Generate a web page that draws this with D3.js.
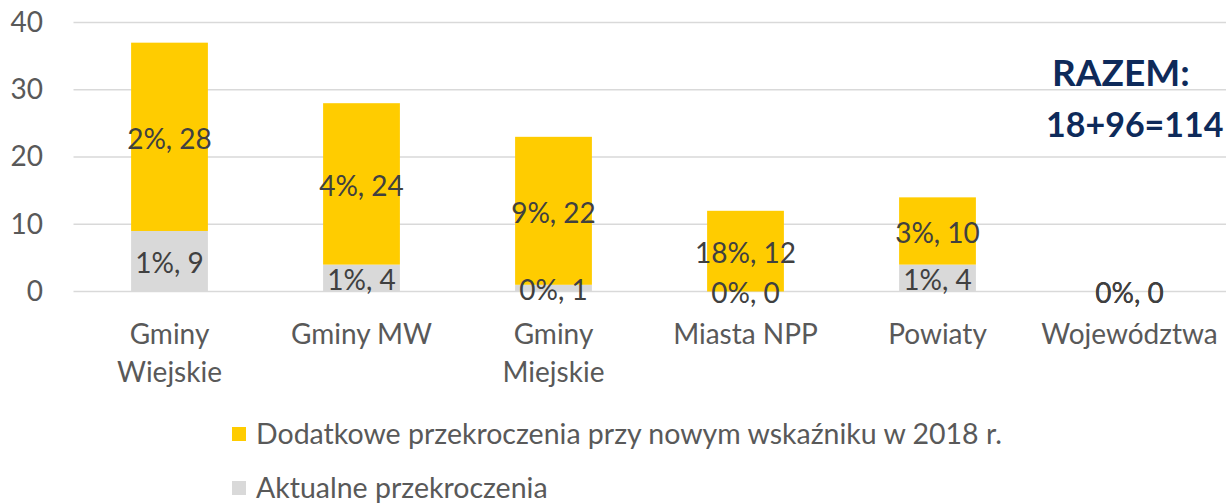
<!DOCTYPE html>
<html>
<head>
<meta charset="utf-8">
<script src="https://cdn.jsdelivr.net/npm/d3@7"></script>
<style>
  body { margin: 0; background: #fff; }
  svg { display: block; font-family: Lato, "Open Sans", sans-serif; }
</style>
</head>
<body>
<div id="chart-area"></div>
<script>
// Przekroczenia wskaźnika wg typu JST
var categories = ["Gminy Wiejskie", "Gminy MW", "Gminy Miejskie", "Miasta NPP", "Powiaty", "Województwa"];
var aktualne = [9, 4, 1, 0, 4, 0];
var aktualnePct = [1, 1, 0, 0, 1, 0];
var dodatkowe = [28, 24, 22, 12, 10, 0];
var dodatkowePct = [2, 4, 9, 18, 3, 0];
var yTicks = [0, 10, 20, 30, 40];
var seriesNames = ["Dodatkowe przekroczenia przy nowym wskaźniku w 2018 r.", "Aktualne przekroczenia"];

var width = 1226, height = 504;
var plotLeft = 73.5, plotRight = 1226, plotTop = 22.5, plotBottom = 291.5;

var svg = d3.select("#chart-area").append("svg")
    .attr("width", width)
    .attr("height", height);

var x = d3.scaleBand()
    .domain(categories)
    .range([plotLeft, plotLeft + 6 * 192])
    .paddingInner(0.6)
    .paddingOuter(0.3);

var y = d3.scaleLinear().domain([0, 40]).range([plotBottom, plotTop]);

// gridlines
svg.append("g").selectAll("line").data(yTicks).enter().append("line")
    .attr("x1", plotLeft).attr("x2", plotRight)
    .attr("y1", (d) => y(d)).attr("y2", (d) => y(d))
    .attr("stroke", "#d9d9d9")
    .attr("stroke-width", 1.5);

// y axis labels
var yAxis = d3.axisLeft(y).tickValues(yTicks).tickSize(0).tickPadding(0);
var yg = svg.append("g").attr("transform", "translate(43,0)").call(yAxis);
yg.select(".domain").remove();
yg.selectAll("text")
    .attr("fill", "#595959")
    .style("font-size", "28px")
    .style("font-family", "Lato, sans-serif");

var rows = categories.map((c, i) => {
    return {name: c, a: aktualne[i], ap: aktualnePct[i], d: dodatkowe[i], dp: dodatkowePct[i]};
});

// gray bottom
svg.append("g").selectAll("rect").data(rows).enter().append("rect")
    .attr("x", (d) => x(d.name))
    .attr("y", (d) => y(d.a))
    .attr("width", x.bandwidth())
    .attr("height", (d) => y(0) - y(d.a))
    .attr("fill", "#d9d9d9");

// yellow top
svg.append("g").selectAll("rect").data(rows).enter().append("rect")
    .attr("x", (d) => x(d.name))
    .attr("y", (d) => y(d.a + d.d))
    .attr("width", x.bandwidth())
    .attr("height", (d) => y(d.a) - y(d.a + d.d))
    .attr("fill", "#ffcc00");

// data labels
var labels = svg.append("g")
    .attr("fill", "#404040")
    .style("font-size", "28px")
    .attr("text-anchor", "middle");

labels.selectAll("text.a").data(rows).enter().append("text")
    .attr("class", "a")
    .attr("x", (d) => x(d.name) + x.bandwidth() / 2)
    .attr("y", (d) => y(d.a / 2))
    .attr("dy", "0.42em")
    .text((d) => d.ap + "%, " + d.a);

labels.selectAll("text.d").data(rows).enter().append("text")
    .attr("class", "d")
    .attr("x", (d) => x(d.name) + x.bandwidth() / 2)
    .attr("y", (d) => y(d.a + d.d / 2))
    .attr("dy", "0.42em")
    .text((d) => d.dp + "%, " + d.d);

// category labels, wrapped
var cat = svg.append("g")
    .attr("fill", "#595959")
    .style("font-size", "28px")
    .attr("text-anchor", "middle");

categories.forEach((c) => {
    var t = cat.append("text")
        .attr("x", x(c) + x.bandwidth() / 2)
        .attr("y", 344);
    var words = c.split(" ");
    var lines = [];
    var line = words[0];
    for (var i = 1; i < words.length; i++) {
        var test = line + " " + words[i];
        t.text(test);
        if (t.node().getComputedTextLength() > 170) {
            lines.push(line);
            line = words[i];
        } else {
            line = test;
        }
    }
    lines.push(line);
    t.text(null);
    lines.forEach((l, k) => {
        t.append("tspan")
            .attr("x", x(c) + x.bandwidth() / 2)
            .attr("y", 344 + k * 38)
            .text(l);
    });
});

// legend
var legendColors = ["#ffcc00", "#d9d9d9"];
var legend = svg.append("g").selectAll("g").data(seriesNames).enter().append("g")
    .attr("transform", (d, i) => "translate(232," + (427 + i * 54) + ")");
legend.append("rect")
    .attr("width", 14).attr("height", 14)
    .attr("fill", (d, i) => legendColors[i]);
legend.append("text")
    .attr("x", 24).attr("y", 7)
    .attr("dy", "0.36em")
    .attr("fill", "#595959")
    .style("font-size", "28.5px")
    .text((d) => d);

// total note
var note = svg.append("g")
    .attr("fill", "#0e2a5a")
    .style("font-weight", "bold");
note.append("text").attr("x", 1052).attr("y", 86).style("font-size", "37px").text("RAZEM:");
note.append("text").attr("x", 1046).attr("y", 137).style("font-size", "34px").text("18+96=114");
</script>
</body>
</html>
